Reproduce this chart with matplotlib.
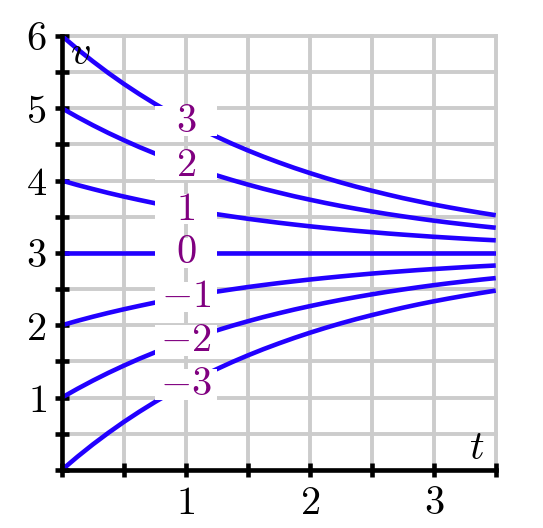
import matplotlib
matplotlib.use("Agg")
import matplotlib.pyplot as plt
from matplotlib.patches import Rectangle

plt.rcParams.update({
    "mathtext.fontset": "cm",
    "font.family": "serif",
    "font.size": 29,
})

#---------------------------data-------------------
t = [0.0, 0.125, 0.25, 0.375, 0.5, 0.625, 0.75, 0.875, 1.0, 1.125, 1.25, 1.375, 1.5, 1.625,
     1.75, 1.875, 2.0, 2.125, 2.25, 2.375, 2.5, 2.625, 2.75, 2.875, 3.0, 3.125, 3.25, 3.375, 3.5]

v_c3 = [6.000, 5.818, 5.648, 5.487, 5.336, 5.195, 5.062, 4.937, 4.820, 4.709, 4.606, 4.508,
        4.417, 4.331, 4.251, 4.175, 4.104, 4.037, 3.974, 3.915, 3.860, 3.808, 3.758, 3.713,
        3.669, 3.629, 3.591, 3.555, 3.521]
v_c2 = [5.000, 4.879, 4.765, 4.658, 4.558, 4.463, 4.375, 4.291, 4.213, 4.140, 4.071, 4.006,
        3.945, 3.887, 3.834, 3.783, 3.736, 3.691, 3.649, 3.610, 3.573, 3.538, 3.506, 3.475,
        3.446, 3.419, 3.394, 3.370, 3.348]
v_c1 = [4.000, 3.939, 3.883, 3.829, 3.779, 3.732, 3.687, 3.646, 3.607, 3.570, 3.535, 3.503,
        3.472, 3.444, 3.417, 3.392, 3.368, 3.346, 3.325, 3.305, 3.287, 3.269, 3.253, 3.238,
        3.223, 3.210, 3.197, 3.185, 3.174]
v_c0 = [3.000] * 29
v_cm1 = [2.000, 2.061, 2.118, 2.171, 2.221, 2.268, 2.313, 2.354, 2.394, 2.430, 2.465, 2.497,
         2.528, 2.556, 2.583, 2.608, 2.632, 2.654, 2.675, 2.695, 2.714, 2.731, 2.747, 2.763,
         2.777, 2.790, 2.803, 2.815, 2.826]
v_cm2 = [1.000, 1.121, 1.235, 1.342, 1.442, 1.537, 1.625, 1.709, 1.787, 1.860, 1.929, 1.994,
         2.055, 2.113, 2.166, 2.217, 2.264, 2.309, 2.351, 2.390, 2.427, 2.462, 2.494, 2.525,
         2.554, 2.581, 2.606, 2.630, 2.652]
v_cm3 = [0.000, 0.182, 0.353, 0.513, 0.664, 0.805, 0.938, 1.063, 1.180, 1.291, 1.394, 1.492,
         1.583, 1.669, 1.749, 1.825, 1.896, 1.963, 2.026, 2.085, 2.140, 2.192, 2.242, 2.288,
         2.331, 2.371, 2.409, 2.445, 2.479]

curves = [v_c3, v_c2, v_c1, v_c0, v_cm1, v_cm2, v_cm3]
curve_labels = ["$3$", "$2$", "$1$", "$0$", "$-1$", "$-2$", "$-3$"]
label_idx = 8  # labels sit at t = 1

x_ticks = [0, 0.5, 1, 1.5, 2, 2.5, 3, 3.5]
x_ticklabels = ["", "", "$1$", "", "$2$", "", "$3$", ""]
y_ticks = [0, 0.5, 1, 1.5, 2, 2.5, 3, 3.5, 4, 4.5, 5, 5.5, 6]
y_ticklabels = ["", "", "$1$", "", "$2$", "", "$3$", "", "$4$", "", "$5$", "", "$6$"]
#-----------------------------------------------------------------------

blue = "#2200ff"
purple = "#800080"
grey = "#cccccc"

fig = plt.figure(figsize=(5.43, 5.28), dpi=100)
ax = fig.add_axes([0.114, 0.110, 0.799, 0.822])

ax.set_xlim(0, 3.5)
ax.set_ylim(0, 6)

#grid every half unit
for xv in x_ticks:
    ax.axvline(xv, color=grey, lw=2.8, zorder=0, clip_on=False)
for yv in y_ticks:
    ax.axhline(yv, color=grey, lw=2.8, zorder=0, clip_on=False)

for v in curves:
    ax.plot(t, v, color=blue, lw=3.3, zorder=2, solid_capstyle="butt")

#labels with white boxes breaking the curves
box_w, box_h = 0.5, 0.42
for v, lab in zip(curves, curve_labels):
    tx, vy = t[label_idx], v[label_idx]
    ax.add_patch(Rectangle((tx - box_w / 2, vy - box_h / 2), box_w, box_h,
                           facecolor="white", edgecolor="none", zorder=3))
    ax.text(tx, vy, lab, color=purple, ha="center", va="center", zorder=4)

ax.text(0.15, 5.75, "$v$", ha="center", va="center", zorder=4)
ax.text(3.35, 0.29, "$t$", ha="center", va="center", zorder=4)

for s in ["top", "right"]:
    ax.spines[s].set_visible(False)
for s in ["left", "bottom"]:
    ax.spines[s].set_linewidth(3.3)
    ax.spines[s].set_zorder(5)

ax.set_xticks(x_ticks)
ax.set_xticklabels(x_ticklabels)
ax.set_yticks(y_ticks)
ax.set_yticklabels(y_ticklabels)
ax.tick_params(direction="inout", length=10, width=3.3, pad=6)

fig.savefig("out.png", dpi=100)
